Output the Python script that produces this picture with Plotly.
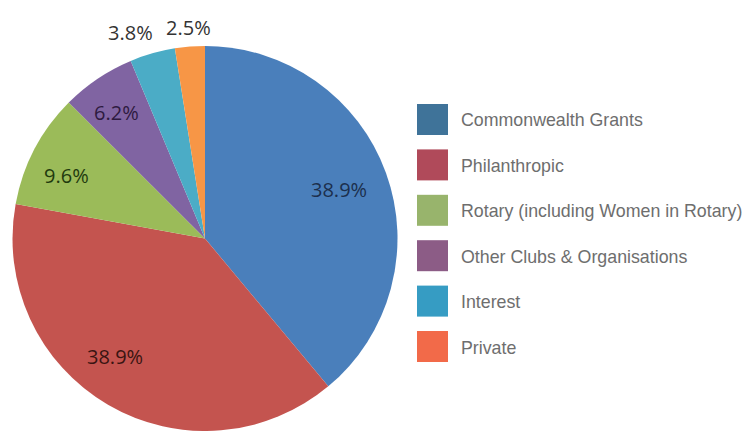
import math
import plotly.graph_objects as go

# ---- data ----
categories = [
    "Commonwealth Grants",
    "Philanthropic",
    "Rotary (including Women in Rotary)",
    "Other Clubs & Organisations",
    "Interest",
    "Private",
]
shares = [38.9, 38.9, 9.6, 6.2, 3.8, 2.5]
share_labels = ["38.9%", "38.9%", "9.6%", "6.2%", "3.8%", "2.5%"]

# ---- style ----
slice_colors = ["#4a7fbb", "#c4544f", "#9bbb59", "#8064a2", "#4bacc6", "#f79646"]
legend_colors = ["#3f7399", "#b04a5a", "#98b46c", "#8c5c86", "#369cc3", "#f26a49"]
label_colors = ["#1c2f4d", "#3a1412", "#1f3a0e", "#2e1a40", "#333333", "#333333"]
label_radius = [0.74, 0.77, 0.79, 0.80, 1.14, 1.10]   # fraction of pie radius
label_turn = [0, 7, -3, -1, -4, 0]                     # degrees off the slice middle

W, H = 744, 431


def fx(px):
    return px / W


def fy(py):
    return 1 - py / H


# pie: center (205, 239), radius 193 -> bottom slightly past the frame
cx_t, cy_t, r_t = 205, 239, 193
dom_y = [0.0, fy(cy_t - r_t)]
box_h = H * (dom_y[1] - dom_y[0])
dom_x = [fx(cx_t - box_h / 2), fx(cx_t + box_h / 2)]

fig = go.Figure()
fig.add_trace(go.Pie(
    labels=categories,
    values=shares,
    sort=False,
    direction="clockwise",
    rotation=0,
    textinfo="none",
    hoverinfo="label+percent",
    marker=dict(colors=slice_colors, line=dict(width=0)),
    showlegend=False,
    domain=dict(x=dom_x, y=dom_y),
))

# pie geometry derived from the domain (same rule plotly uses)
cx = W * (dom_x[0] + dom_x[1]) / 2
cy = H * (1 - (dom_y[0] + dom_y[1]) / 2)
r = min(W * (dom_x[1] - dom_x[0]), H * (dom_y[1] - dom_y[0])) / 2

annotations = []
total = sum(shares)
cum = 0.0
for val, txt, col, rf, turn in zip(shares, share_labels, label_colors, label_radius, label_turn):
    mid = (cum + val / 2) / total * 2 * math.pi + math.radians(turn)
    cum += val
    px = cx + rf * r * math.sin(mid)
    py = cy - rf * r * math.cos(mid)
    annotations.append(dict(
        x=fx(px), y=fy(py), xref="paper", yref="paper",
        text=txt, showarrow=False, xanchor="center", yanchor="middle",
        font=dict(family="Open Sans", size=20, color=col),
    ))

# custom legend (large swatches)
shapes = []
sw = 31
x0 = 417
y_first = 119.5
step = 45.4
for i, (name, col) in enumerate(zip(categories, legend_colors)):
    yc = y_first + i * step
    shapes.append(dict(
        type="rect", xref="paper", yref="paper",
        x0=fx(x0), x1=fx(x0 + sw),
        y0=fy(yc + sw / 2), y1=fy(yc - sw / 2),
        fillcolor=col, line=dict(width=0),
    ))
    annotations.append(dict(
        x=fx(459), y=fy(yc + 1), xref="paper", yref="paper",
        text=name, showarrow=False, xanchor="left", yanchor="middle",
        font=dict(family="Liberation Sans", size=17.8, color="#6e6e6e"),
    ))

fig.update_layout(
    width=W, height=H,
    margin=dict(l=0, r=0, t=0, b=0),
    paper_bgcolor="white",
    plot_bgcolor="white",
    annotations=annotations,
    shapes=shapes,
)

fig.write_html(
    "out.html",
    config={"displayModeBar": False},
    post_script="document.body.style.margin='0';document.body.style.overflow='hidden';",
)
